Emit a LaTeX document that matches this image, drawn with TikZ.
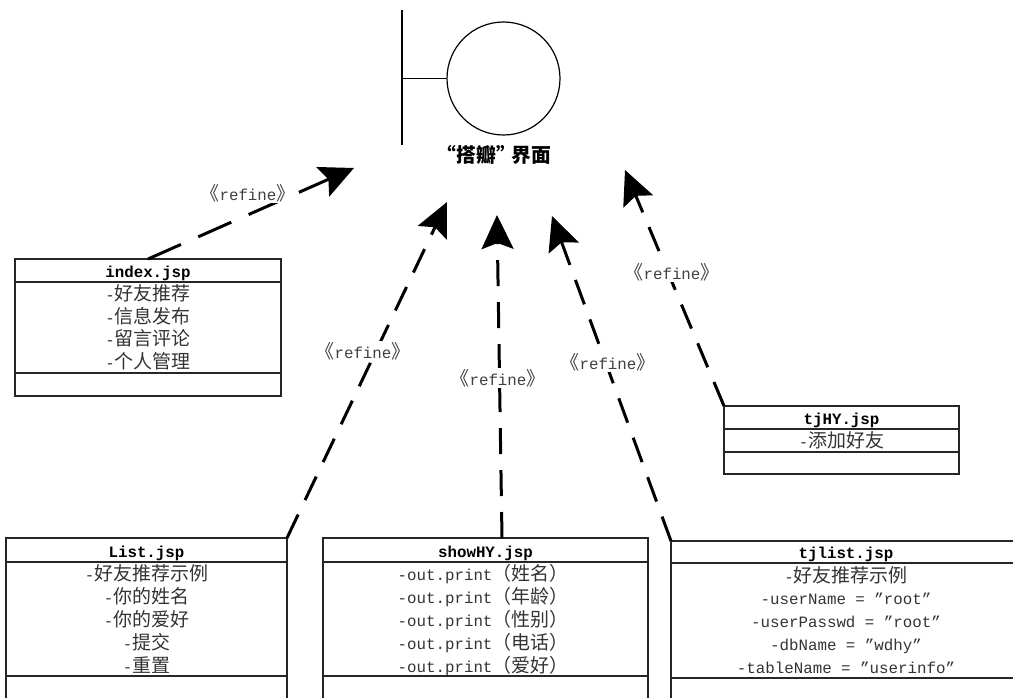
\documentclass[tikz,border=0pt]{standalone}
\usepackage{fontspec}
\setmainfont{Liberation Mono}
\newfontfamily\cj{Noto Sans CJK SC}[Scale=1.2]
\usetikzlibrary{arrows.meta,calc}
\newcommand{\myBody}{\fontsize{15.8pt}{20pt}\selectfont}
\newcommand{\myHead}{\fontsize{15.8pt}{20pt}\selectfont\bfseries}
\tikzset{
  box/.style={draw=black!85, line width=1.1pt, anchor=north west, inner sep=0pt, outer sep=0pt},
  sepline/.style={draw=black!85, line width=1.1pt},
  head/.style={font=\myHead, text=black, inner sep=0pt, anchor=base},
  row/.style={font=\myBody, text=black!80, inner sep=0pt, anchor=base},
  lbl/.style={font=\myBody, text=black!75, fill=white, inner sep=1pt},
  refine/.style={line width=3pt, dash pattern=on 26pt off 16pt,
    -{Stealth[length=34pt,width=32pt,inset=6pt]}},
}
\begin{document}
\begin{tikzpicture}[x=1pt,y=-1pt]
\useasboundingbox (0,0) rectangle (1013,698);
\clip (0,0) rectangle (1013,698);

% boundary icon
\node (circ) [circle, draw=black, line width=1.2pt, minimum size=113pt, inner sep=0pt] at (503.5,78.5) {};
\coordinate (bar) at (402,78.5);
\draw[line width=1.2pt] (402,10) -- (402,145);
\draw[line width=1.2pt] (bar) -- (circ.west);
\node (title) at (494,155) {\cj\fontsize{16.5pt}{20pt}\selectfont\bfseries “搭瓣”\kern-4pt界面};

% index.jsp
\node (idx) [box, minimum width=266pt, minimum height=137pt] at (15,259) {};
\draw[sepline] (idx.west |- 0,282) -- (idx.east |- 0,282);
\draw[sepline] (idx.west |- 0,373) -- (idx.east |- 0,373);
\node[head] (idxh) at (148,277) {index.jsp};
\node[row] (idx1) at (148,300) {-{\cj 好友推荐}};
\node[row] (idx2) at (148,323) {-{\cj 信息发布}};
\node[row] (idx3) at (148,345.5) {-{\cj 留言评论}};
\node[row] (idx4) at (148,368) {-{\cj 个人管理}};

% List.jsp
\node (lst) [box, minimum width=281pt, minimum height=190pt] at (6,538) {};
\draw[sepline] (lst.west |- 0,562) -- (lst.east |- 0,562);
\draw[sepline] (lst.west |- 0,676) -- (lst.east |- 0,676);
\node[head] (lsth) at (146.5,557) {List.jsp};
\node[row] (lst1) at (146.5,580) {-{\cj 好友推荐示例}};
\node[row] (lst2) at (146.5,603) {-{\cj 你的姓名}};
\node[row] (lst3) at (146.5,626) {-{\cj 你的爱好}};
\node[row] (lst4) at (146.5,649) {-{\cj 提交}};
\node[row] (lst5) at (146.5,672) {-{\cj 重置}};

% showHY.jsp
\node (shw) [box, minimum width=325pt, minimum height=190pt] at (323,538) {};
\draw[sepline] (shw.west |- 0,562) -- (shw.east |- 0,562);
\draw[sepline] (shw.west |- 0,676) -- (shw.east |- 0,676);
\node[head] (shwh) at (485.5,557) {showHY.jsp};
\node[row] (shw1) at (483,580) {-out.print{\cj （姓名）}};
\node[row] (shw2) at (483,603) {-out.print{\cj （年龄）}};
\node[row] (shw3) at (483,626) {-out.print{\cj （性别）}};
\node[row] (shw4) at (483,649) {-out.print{\cj （电话）}};
\node[row] (shw5) at (483,672) {-out.print{\cj （爱好）}};

% tjlist.jsp
\node (tjl) [box, minimum width=350pt, minimum height=190pt] at (671,541) {};
\draw[sepline] (tjl.west |- 0,563) -- (tjl.east |- 0,563);
\draw[sepline] (tjl.west |- 0,678) -- (tjl.east |- 0,678);
\node[head] (tjlh) at (846,558) {tjlist.jsp};
\node[row] (tjl1) at (846,582) {-{\cj 好友推荐示例}};
\node[row] (tjl2) at (846,604) {-userName = "root"};
\node[row] (tjl3) at (846,627) {-userPasswd = "root"};
\node[row] (tjl4) at (846,650) {-dbName = "wdhy"};
\node[row] (tjl5) at (846,673) {-tableName = "userinfo"};

% tjHY.jsp
\node (tjh) [box, minimum width=235pt, minimum height=68pt] at (724,406) {};
\draw[sepline] (tjh.west |- 0,429) -- (tjh.east |- 0,429);
\draw[sepline] (tjh.west |- 0,452) -- (tjh.east |- 0,452);
\node[head] (tjhh) at (841.5,424) {tjHY.jsp};
\node[row] (tjh1) at (841.5,447) {-{\cj 添加好友}};

% arrow tips
\coordinate (t1) at (354,168);
\coordinate (t2) at (447,202);
\coordinate (t3) at (497,215);
\coordinate (t4) at (552,216);
\coordinate (t5) at (625,170);

\draw[refine, dash pattern=on 36pt off 19pt] (idx.north) -- (t1);
\draw[refine] (lst.north east) -- (t2);
\draw[refine] ([xshift=16.5pt]shw.north) -- (t3);
\draw[refine] (tjl.north west) -- (t4);
\draw[refine] (tjh.north west) -- (t5);

% labels
\node[lbl] (r1) at (248,193) {{\cj 《}refine{\cj 》}};
\node[lbl] (r2) at (363,351) {{\cj 《}refine{\cj 》}};
\node[lbl] (r3) at (498,378) {{\cj 《}refine{\cj 》}};
\node[lbl] (r4) at (608,362) {{\cj 《}refine{\cj 》}};
\node[lbl] (r5) at (672,272) {{\cj 《}refine{\cj 》}};
\end{tikzpicture}
\end{document}
